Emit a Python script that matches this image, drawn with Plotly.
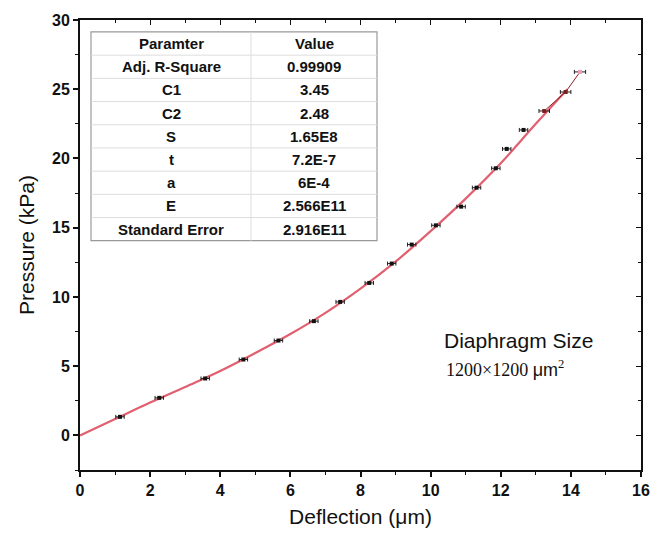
import plotly.graph_objects as go

# Measured data (deflection in µm, pressure in kPa)
defl = [1.14, 2.26, 3.57, 4.66, 5.66, 6.67, 7.42, 8.25, 8.89, 9.46, 10.15, 10.87,
        11.31, 11.86, 12.17, 12.65, 13.24, 13.85, 14.26]
press = [1.34, 2.71, 4.11, 5.48, 6.85, 8.25, 9.64, 11.01, 12.41, 13.78, 15.17, 16.52,
         17.89, 19.29, 20.69, 22.06, 23.43, 24.80, 26.25]
defl_err = [0.12] * 16 + [0.15, 0.15, 0.16]
point_colors = ["#111111"] * 16 + ["#7a1f1f", "#7a1f1f", "#e8a0b0"]

# Fit curve
fit_x = [0, 1, 2, 3, 4, 5, 6, 7, 8, 9, 10, 11, 12, 13, 13.9]
fit_y = [0, 1.18, 2.37, 3.5, 4.65, 5.95, 7.32, 8.85, 10.6, 12.55, 14.75, 17.1, 19.65, 22.5, 25.0]

# Fit parameter table
param_names = ["Paramter", "Adj. R-Square", "C1", "C2", "S", "t", "a", "E", "Standard Error"]
param_values = ["Value", "0.99909", "3.45", "2.48", "1.65E8", "7.2E-7", "6E-4", "2.566E11", "2.916E11"]

x_ticks = [0, 2, 4, 6, 8, 10, 12, 14, 16]
y_ticks = [0, 5, 10, 15, 20, 25, 30]
X_RANGE = [0, 16]
Y_RANGE = [-2.5, 30]

SANS = "Liberation Sans, Arial, sans-serif"

fig = go.Figure()
fig.add_trace(go.Scatter(x=fit_x, y=fit_y, mode="lines", line=dict(color="#e06070", width=2.2),
                         line_shape="spline", showlegend=False, hoverinfo="skip"))
fig.add_trace(go.Scatter(x=defl[16:], y=press[16:], mode="lines",
                         line=dict(color="#8b2020", width=1), showlegend=False))
fig.add_trace(go.Scatter(x=defl, y=press, mode="markers",
                         marker=dict(symbol="square", size=4, color=point_colors,
                                     line=dict(width=0)),
                         error_x=dict(type="data", array=defl_err, visible=True,
                                      color="#222222", thickness=1, width=2),
                         showlegend=False))
# invisible trace for mirrored axes
fig.add_trace(go.Scatter(x=X_RANGE, y=Y_RANGE, xaxis="x2", yaxis="y2", mode="markers",
                         marker=dict(opacity=0), showlegend=False, hoverinfo="skip"))

tickfont = dict(family=SANS, size=16, color="#111111")
fig.update_layout(
    width=663, height=537,
    margin=dict(l=80, r=22, t=18, b=67),
    paper_bgcolor="white", plot_bgcolor="white",
    font=dict(family=SANS, color="#111111"),
    xaxis=dict(range=X_RANGE, tickvals=x_ticks, ticktext=["<b>%d</b>" % v for v in x_ticks],
               showgrid=False, zeroline=False, showline=True, linecolor="#111111", linewidth=2,
               ticks="outside", ticklen=5, tickwidth=1.5, tickcolor="#111111",
               minor=dict(dtick=1, tick0=0, ticks="outside", ticklen=3, tickcolor="#111111", tickwidth=1),
               tickfont=tickfont,
               title=dict(text="Deflection (μm)", font=dict(family=SANS, size=21, color="#111111"), standoff=11),
               ),
    yaxis=dict(range=Y_RANGE, tickvals=y_ticks, ticktext=["<b>%d</b>" % v for v in y_ticks],
               showgrid=False, zeroline=False, showline=True, linecolor="#111111", linewidth=2,
               ticks="outside", ticklen=5, tickwidth=1.5, tickcolor="#111111",
               minor=dict(dtick=2.5, tick0=0, ticks="outside", ticklen=3, tickcolor="#111111", tickwidth=1),
               tickfont=tickfont,
               title=dict(text="Pressure (kPa)", font=dict(family=SANS, size=21, color="#111111"), standoff=12),
               ),
    xaxis2=dict(range=X_RANGE, overlaying="x", side="top", anchor="y", tickvals=x_ticks,
                showticklabels=False, showgrid=False, zeroline=False, showline=True,
                linecolor="#111111", linewidth=2, ticks="inside", ticklen=5, tickcolor="#111111",
                minor=dict(dtick=1, tick0=0, ticks="inside", ticklen=3, tickcolor="#111111")),
    yaxis2=dict(range=Y_RANGE, overlaying="y", side="right", anchor="x", tickvals=y_ticks,
                showticklabels=False, showgrid=False, zeroline=False, showline=True,
                linecolor="#111111", linewidth=2, ticks="inside", ticklen=5, tickcolor="#111111",
                minor=dict(dtick=2.5, tick0=0, ticks="inside", ticklen=3, tickcolor="#111111")),
)

# Table drawn in pixel-based paper coordinates
W, H = 663, 537
L, R, T, B = 80, 22, 18, 67
pw, ph = W - L - R, H - T - B

def px(xp):
    return (xp - L) / pw

def py(yp):
    return 1 - (yp - T) / ph

tx0, tx1, tmid = 91, 377, 251
ty0 = 30
row_h = 23.3
n = len(param_names)
ty1 = ty0 + n * row_h
fig.add_shape(type="rect", xref="paper", yref="paper", x0=px(tx0), x1=px(tx1), y0=py(ty1), y1=py(ty0),
              line=dict(color="#999999", width=1.2), fillcolor="white", layer="above")
for i in range(1, n):
    yy = ty0 + i * row_h
    fig.add_shape(type="line", xref="paper", yref="paper", x0=px(tx0), x1=px(tx1), y0=py(yy), y1=py(yy),
                  line=dict(color="#dddddd", width=1))
fig.add_shape(type="line", xref="paper", yref="paper", x0=px(tmid), x1=px(tmid), y0=py(ty0), y1=py(ty1),
              line=dict(color="#dddddd", width=1))
for i, (nm, val) in enumerate(zip(param_names, param_values)):
    yc = ty0 + (i + 0.5) * row_h
    fig.add_annotation(xref="paper", yref="paper", x=px((tx0 + tmid) / 2), y=py(yc), text="<b>%s</b>" % nm,
                       showarrow=False, font=dict(family=SANS, size=15, color="#111111"),
                       xanchor="center", yanchor="middle")
    fig.add_annotation(xref="paper", yref="paper", x=px((tmid + tx1) / 2), y=py(yc), text="<b>%s</b>" % val,
                       showarrow=False, font=dict(family=SANS, size=15, color="#111111"),
                       xanchor="center", yanchor="middle")

fig.add_annotation(xref="paper", yref="paper", x=px(442), y=py(340), text="Diaphragm Size",
                   showarrow=False, font=dict(family=SANS, size=21, color="#111111"),
                   xanchor="left", yanchor="middle")
fig.add_annotation(xref="paper", yref="paper", x=px(444), y=py(368),
                   text="1200×1200 <span style='font-family:Liberation Sans'>μm</span><sup>2</sup>",
                   showarrow=False, font=dict(family="Liberation Serif, Times New Roman, serif", size=18, color="#111111"),
                   xanchor="left", yanchor="middle")

fig.write_html("out.html")
